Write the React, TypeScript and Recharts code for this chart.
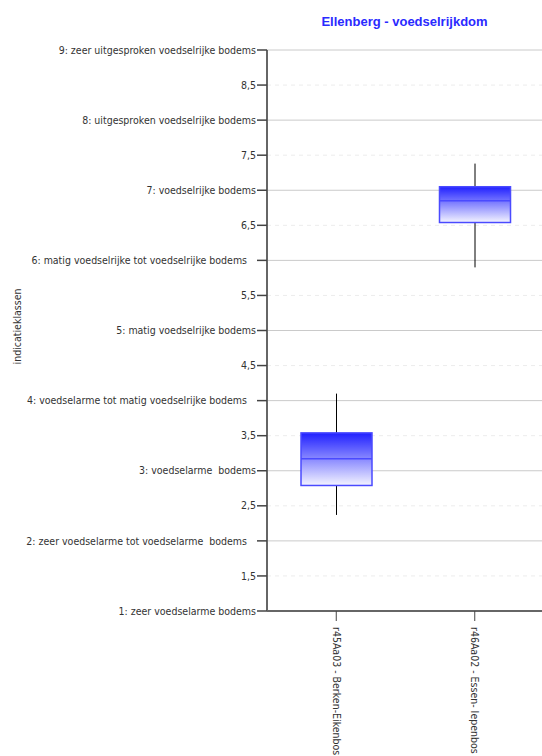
import { ComposedChart, Bar, XAxis, YAxis, CartesianGrid } from 'recharts';

const categories = ['r45Aa03 - Berken-Eikenbos', 'r46Aa02 - Essen- Iepenbos'];
const whiskerLow = [2.37, 5.9];
const quartile1 = [2.79, 6.54];
const median = [3.17, 6.85];
const quartile3 = [3.54, 7.05];
const whiskerHigh = [4.1, 7.38];

const yTicks = [1, 1.5, 2, 2.5, 3, 3.5, 4, 4.5, 5, 5.5, 6, 6.5, 7, 7.5, 8, 8.5, 9];
const yTickLabels = [
  '1: zeer voedselarme bodems',
  '1,5',
  '2: zeer voedselarme tot voedselarme  bodems   ',
  '2,5',
  '3: voedselarme  bodems',
  '3,5',
  '4: voedselarme tot matig voedselrijke bodems   ',
  '4,5',
  '5: matig voedselrijke bodems',
  '5,5',
  '6: matig voedselrijke tot voedselrijke bodems   ',
  '6,5',
  '7: voedselrijke bodems',
  '7,5',
  '8: uitgesproken voedselrijke bodems',
  '8,5',
  '9: zeer uitgesproken voedselrijke bodems',
];
const wholeLines = [1, 2, 3, 4, 5, 6, 7, 8, 9];
const halfLines = [1.5, 2.5, 3.5, 4.5, 5.5, 6.5, 7.5, 8.5];

const data = categories.map((name, i) => ({
  name,
  range: [whiskerLow[i], whiskerHigh[i]],
  q1: quartile1[i],
  med: median[i],
  q3: quartile3[i],
}));

const FONT = "'DejaVu Sans Condensed', 'Liberation Sans', sans-serif";

const BoxShape = (props: any) => {
  const { x, y, width, height, payload, index } = props;
  const [low, high] = payload.range;
  const h = Math.abs(height);
  const top = Math.min(y, y + height);
  const pos = (v: number) => top + ((high - v) * h) / (high - low); // op basis van de staafschaal
  const cx = x + width / 2;
  const id = 'boxgrad' + index;
  return (
    <g>
      <defs>
        <linearGradient id={id} x1="0" y1="0" x2="0" y2="1">
          <stop offset="0%" stopColor="#2020ff" />
          <stop offset="100%" stopColor="#f4f4ff" />
        </linearGradient>
      </defs>
      <line x1={cx} x2={cx} y1={pos(high)} y2={pos(payload.q3)} stroke="#000" strokeWidth={1} />
      <line x1={cx} x2={cx} y1={pos(payload.q1)} y2={pos(low)} stroke="#000" strokeWidth={1} />
      <rect
        x={x}
        y={pos(payload.q3)}
        width={width}
        height={pos(payload.q1) - pos(payload.q3)}
        fill={`url(#${id})`}
        stroke="#4a4aff"
        strokeWidth={1.5}
      />
      <line x1={x} x2={x + width} y1={pos(payload.med)} y2={pos(payload.med)} stroke="#4a4aff" strokeWidth={1.5} />
    </g>
  );
};

const YTick = ({ x, y, payload }: any) => {
  const i = yTicks.indexOf(payload.value);
  return (
    <text
      x={x}
      y={y}
      dy="0.35em"
      textAnchor="end"
      xmlSpace="preserve"
      style={{ whiteSpace: 'pre' }}
      fontFamily={FONT}
      fontSize={10.5}
      fill="#333"
    >
      {yTickLabels[i]}
    </text>
  );
};

const XTick = ({ x, y, payload }: any) => (
  <text
    x={x}
    y={y}
    dx={4}
    dy="0.35em"
    textAnchor="start"
    transform={`rotate(90, ${x}, ${y})`}
    fontFamily={FONT}
    fontSize={10.5}
    fill="#333"
  >
    {payload.value}
  </text>
);

const YLabel = ({ viewBox }: any) => {
  const lx = viewBox.x + 18;
  const ly = viewBox.y + viewBox.height / 2 - 4;
  return (
    <text
      x={lx}
      y={ly}
      textAnchor="middle"
      dominantBaseline="middle"
      transform={`rotate(-90, ${lx}, ${ly})`}
      fontFamily={FONT}
      fontSize={10.5}
      fill="#333"
    >
      indicatieklassen
    </text>
  );
};

export default function App() {
  return (
    <div style={{ position: 'absolute', left: 0, top: 0, width: 542, height: 756, overflow: 'hidden', background: '#fff' }}>
      <div
        style={{
          position: 'absolute',
          left: 267,
          width: 275,
          top: 14,
          textAlign: 'center',
          fontFamily: "'Liberation Sans', Arial, sans-serif",
          fontWeight: 'bold',
          fontSize: 13,
          color: '#2a2aff',
        }}
      >
        Ellenberg - voedselrijkdom
      </div>
      <ComposedChart width={544} height={756} data={data} margin={{ top: 50, right: 0, bottom: 1, left: 0 }}>
        <CartesianGrid vertical={false} horizontalValues={wholeLines} stroke="#cacaca" />
        <CartesianGrid vertical={false} horizontalValues={halfLines} stroke="#ececec" strokeDasharray="4 4" />
        <XAxis
          dataKey="name"
          height={144}
          tickSize={10}
          tickMargin={2}
          interval={0}
          tick={<XTick />}
          axisLine={{ stroke: '#666', strokeWidth: 2 }}
          tickLine={{ stroke: '#444' }}
        />
        <YAxis
          type="number"
          domain={[1, 9]}
          ticks={yTicks}
          interval={0}
          width={267}
          tickSize={10}
          tickMargin={1}
          tick={<YTick />}
          axisLine={{ stroke: '#666', strokeWidth: 2 }}
          tickLine={{ stroke: '#444', strokeWidth: 1.5 }}
          label={{ content: <YLabel /> }}
        />
        <Bar dataKey="range" barSize={71} shape={<BoxShape />} isAnimationActive={false} />
      </ComposedChart>
    </div>
  );
}
